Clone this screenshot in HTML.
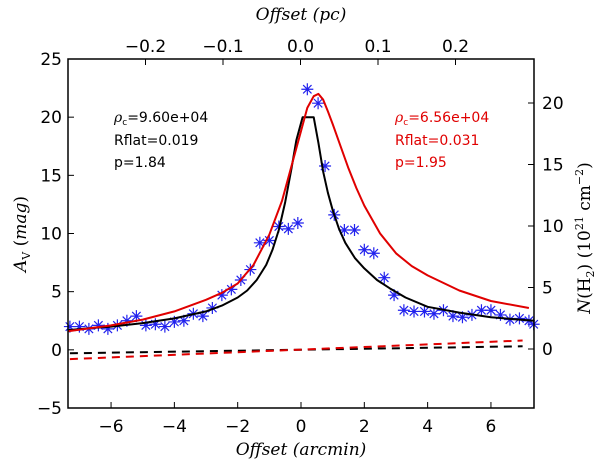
<!DOCTYPE html>
<html><head><meta charset="utf-8"><style>
html,body{margin:0;padding:0;background:#fff;}
svg{display:block;font-family:"DejaVu Sans","Liberation Sans",sans-serif;}
</style></head><body>
<svg id="chart" width="600" height="463" viewBox="0 0 600 463" xmlns="http://www.w3.org/2000/svg">
<g id="plot"></g>
</svg>
<script>
const obsX=[-7.3,-7.0,-6.7,-6.4,-6.1,-5.8,-5.5,-5.2,-4.9,-4.6,-4.3,-4.0,-3.7,-3.4,-3.1,-2.8,-2.5,-2.2,-1.9,-1.6,-1.3,-1.0,-0.7,-0.4,-0.1,0.2,0.54,0.76,1.05,1.37,1.69,2.0,2.3,2.63,2.94,3.25,3.57,3.9,4.2,4.5,4.8,5.1,5.4,5.7,6.0,6.3,6.6,6.9,7.2,7.35];
const obsAv=[2.0,2.0,1.8,2.1,1.8,2.1,2.5,2.9,2.1,2.2,2.0,2.4,2.5,3.1,2.9,3.6,4.7,5.2,6.0,6.9,9.2,9.4,10.6,10.4,10.9,22.4,21.2,15.8,11.6,10.3,10.3,8.6,8.3,6.2,4.7,3.4,3.3,3.3,3.1,3.4,2.9,2.8,3.0,3.4,3.4,3.0,2.6,2.7,2.5,2.2];
const blackX=[-7.36,-6.5,-6,-5,-4,-3.5,-3,-2.5,-2,-1.7,-1.4,-1.1,-0.9,-0.7,-0.5,-0.3,-0.15,0.05,0.4,0.55,0.7,0.85,1.0,1.2,1.4,1.7,2.0,2.4,2.8,3.3,4,5,6,7.36];
const blackAv=[1.7,1.9,2.0,2.3,2.7,3.0,3.3,3.8,4.5,5.1,6.0,7.3,8.6,10.3,12.7,15.6,18,20,20,17.8,15.3,13.5,12.0,10.4,9.2,7.9,7.0,6.0,5.3,4.5,3.7,3.2,2.8,2.5];
const redX=[-7.36,-6,-5,-4,-3,-2.5,-2,-1.5,-1.0,-0.6,-0.3,0,0.2,0.4,0.55,0.7,0.85,1.0,1.25,1.5,1.75,2.0,2.5,3,3.5,4,5,6,7.2];
const redAv=[1.6,2.1,2.6,3.3,4.3,4.9,5.7,7.3,9.9,12.8,15.8,18.8,20.8,21.8,22,21.5,20.5,19.4,17.5,15.6,13.9,12.4,10.0,8.3,7.2,6.4,5.1,4.2,3.6];
const blackDashX=[-7.3,7.0];
const blackDashAv=[-0.3,0.3];
const redDashX=[-7.3,7.0];
const redDashAv=[-0.8,0.8];
const xTicks=[-6,-4,-2,0,2,4,6];
const yTicks=[-5,0,5,10,15,20,25];
const topTicks=[-0.2,-0.1,0.0,0.1,0.2];
const rightTicks=[0,5,10,15,20];

const L=68,R=534,T=59,B=408,XMIN=-7.36,XMAX=7.36,YMIN=-5,YMAX=25;
const sx=v=>L+(v-XMIN)/(XMAX-XMIN)*(R-L);
const sy=v=>B-(v-YMIN)/(YMAX-YMIN)*(B-T);
const sxPc=v=>300.5+v*775;
const syN=v=>349-v*12.3;
const NS="http://www.w3.org/2000/svg";
const g=document.getElementById('plot');
function mk(tag,attrs,parent){const e=document.createElementNS(NS,tag);for(const k in attrs)e.setAttribute(k,attrs[k]);(parent||g).appendChild(e);return e;}
const fmt=v=>(v<0?"\u2212":"")+Math.abs(v);
const fmtPc=v=>(v<0?"\u2212":"")+Math.abs(v).toFixed(1);

function line(xs,ys,color,dash,name){
  const p=mk('polyline',{points:xs.map((x,i)=>sx(x).toFixed(1)+","+sy(ys[i]).toFixed(1)).join(" "),fill:"none",stroke:color,"stroke-width":2,"stroke-linejoin":"round","stroke-dasharray":dash||"none"});
  
  
}
line(blackDashX,blackDashAv,"#000","8,6","black-dashed-line");
line(redDashX,redDashAv,"#e00000","8,6","red-dashed-line");
obsX.forEach((x,i)=>{
  const cx=sx(x),cy=sy(obsAv[i]),r=6;
  const s=mk('path',{d:`M${cx-r},${cy}H${cx+r}M${cx},${cy-r}V${cy+r}M${cx-r*0.7},${cy-r*0.7}L${cx+r*0.7},${cy+r*0.7}M${cx-r*0.7},${cy+r*0.7}L${cx+r*0.7},${cy-r*0.7}`,stroke:"#2222ee","stroke-width":1.2,fill:"none"});
  
  
});
line(blackX,blackAv,"#000",null,"black-model-curve");
line(redX,redAv,"#e00000",null,"red-model-curve");

const fr=mk('rect',{x:L,y:T,width:R-L,height:B-T,fill:"none",stroke:"#000","stroke-width":1.5});



function txt(x,y,s,attrs,name){const t=mk('text',Object.assign({x:x,y:y,"font-size":17},attrs||{}));t.textContent=s;return t;}
xTicks.forEach(v=>{const x=sx(v);mk('path',{d:`M${x},${B}v-6`,stroke:"#000"});txt(x,432,fmt(v),{"text-anchor":"middle"},'x-tick-label');});
yTicks.forEach(v=>{const y=sy(v);mk('path',{d:`M${L},${y}h6`,stroke:"#000"});txt(L-6,y+6,fmt(v),{"text-anchor":"end"},'y-tick-label');});
topTicks.forEach(v=>{const x=sxPc(v);mk('path',{d:`M${x},${T}v6`,stroke:"#000"});txt(x,52,fmtPc(v),{"text-anchor":"middle"},'top-tick-label');});
rightTicks.forEach(v=>{const y=syN(v);mk('path',{d:`M${R},${y}h-6`,stroke:"#000"});txt(R+8,y+6,String(v),{},'right-tick-label');});

txt(301,455,"Offset (arcmin)",{"text-anchor":"middle","font-family":"DejaVu Serif,Liberation Serif,serif","font-style":"italic"},'x-axis-title');
txt(301,20,"Offset (pc)",{"text-anchor":"middle","font-family":"DejaVu Serif,Liberation Serif,serif","font-style":"italic"},'top-axis-title');
const yl=txt(0,0,"",{"text-anchor":"middle","font-family":"DejaVu Serif,Liberation Serif,serif",transform:"translate(26,234) rotate(-90)"},'y-axis-title');
yl.innerHTML='<tspan font-style="italic">A</tspan><tspan font-size="11" dy="4">V</tspan><tspan dy="-4"> (</tspan><tspan font-style="italic">mag</tspan>)';
const rl=txt(0,0,"",{"text-anchor":"middle","font-family":"DejaVu Serif,Liberation Serif,serif",transform:"translate(590,238) rotate(-90)"},'right-axis-title');
rl.innerHTML='<tspan font-style="italic">N</tspan>(H<tspan font-size="11" dy="4">2</tspan><tspan dy="-4">)  (10</tspan><tspan font-size="11" dy="-7">21</tspan><tspan dy="7"> cm</tspan><tspan font-size="11" dy="-7">−2</tspan><tspan dy="7">)</tspan>';

function ann(x,color,lines,name){
  const a=txt(x,122,"",{"font-size":14,fill:color},name+'-rho');a.innerHTML='<tspan font-style="italic" font-family="DejaVu Serif,serif">ρ</tspan><tspan font-size="9" dy="3">c</tspan><tspan dy="-3">='+lines[0]+'</tspan>';
  txt(x,145,"Rflat="+lines[1],{"font-size":14,fill:color},name+'-rflat');
  txt(x,167,"p="+lines[2],{"font-size":14,fill:color},name+'-p');
}
ann(114,"#000",["9.60e+04","0.019","1.84"],"black-annotation");
ann(395,"#e00000",["6.56e+04","0.031","1.95"],"red-annotation");
</script>
</body></html>
